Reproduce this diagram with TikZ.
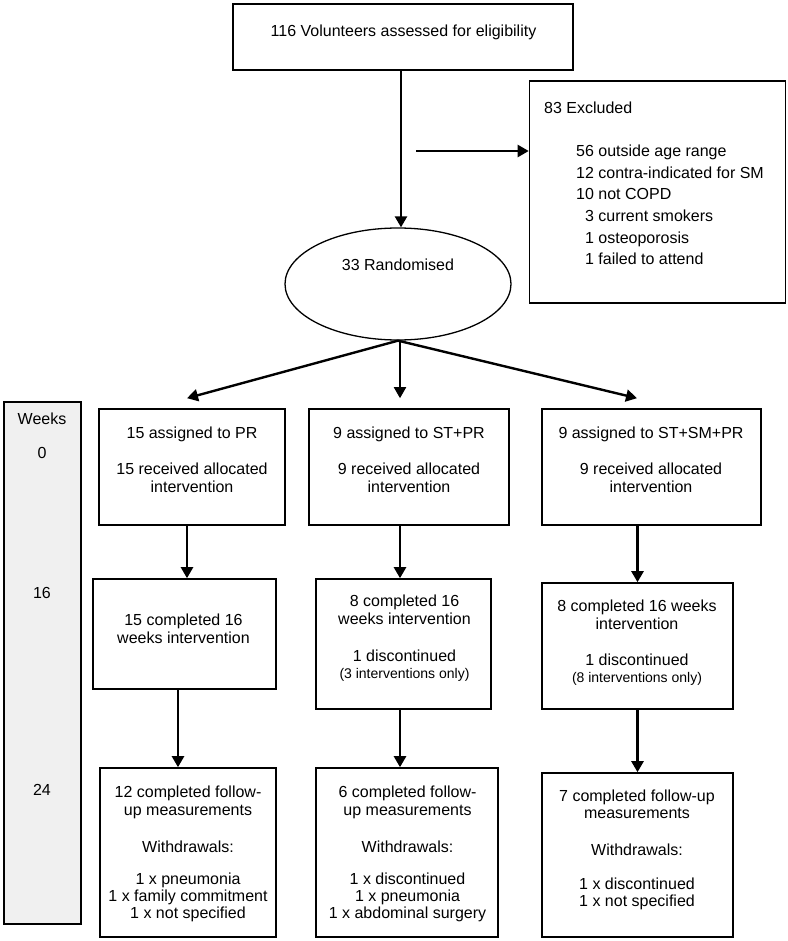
\documentclass[tikz,border=0pt]{standalone}
\usepackage{fontspec}
\setmainfont{Liberation Sans}
\usetikzlibrary{arrows.meta,shapes.geometric}
\begin{document}
\begin{tikzpicture}[x=1pt,y=-1pt,
  box/.style={draw=black,line width=1.6pt,fill=white,inner sep=0pt},
  txt/.style={inner sep=0pt,align=center,font=\fontsize{16}{18}\selectfont},
  arr/.style={line width=2.4pt,-{Triangle[length=11pt,width=12pt]}},
]
\useasboundingbox (0,0) rectangle (787,941);
% boxes
\node[box,minimum width=340pt,minimum height=66pt] (top) at (403,37) {};
\node[box,minimum width=256pt,minimum height=222pt] (excl) at (657.5,192) {};
\node[draw=black,line width=1.3pt,ellipse,minimum width=226pt,minimum height=112pt,inner sep=0pt] (ell) at (398,284) {};
\node[box,fill={rgb,255:red,240;green,240;blue,240},minimum width=77pt,minimum height=522pt] (weeks) at (42.5,663) {};
\node[box,minimum width=186pt,minimum height=116pt] (b1) at (192,467) {};
\node[box,minimum width=200pt,minimum height=116pt] (b2) at (409,467) {};
\node[box,minimum width=219pt,minimum height=116pt] (b3) at (651.5,467) {};
\node[box,minimum width=183pt,minimum height=110pt] (c1) at (184.5,634) {};
\node[box,minimum width=175pt,minimum height=130pt] (c2) at (403.5,644) {};
\node[box,minimum width=191pt,minimum height=126pt] (c3) at (637.5,646) {};
\node[box,minimum width=176pt,minimum height=169pt] (d1) at (188,852.5) {};
\node[box,minimum width=182pt,minimum height=169pt] (d2) at (407,852.5) {};
\node[box,minimum width=191pt,minimum height=164pt] (d3) at (637.5,855) {};
% texts
\node[txt] (ttop) at (403.5,32) {116 Volunteers assessed for eligibility};
\node[txt,anchor=west] (texh) at (544,108) {83 Excluded};
\node[inner sep=0pt,align=left,anchor=west,font=\fontsize{16}{21.6}\selectfont] (texl) at (576,205)
  {56 outside age range\\12 contra-indicated for SM\\10 not COPD\\\hphantom{0}3 current smokers\\\hphantom{0}1 osteoporosis\\\hphantom{0}1 failed to attend};
\node[txt] (tell) at (398,265) {33 Randomised};
\node[txt] (tw) at (42,419) {Weeks};
\node[txt] (tw0) at (42,453) {0};
\node[txt] (tw16) at (42,593) {16};
\node[txt] (tw24) at (42,790) {24};
\node[txt] (tb1) at (192,460) {15 assigned to PR\\[18pt]15 received allocated\\intervention};
\node[txt] (tb2) at (409,460) {9 assigned to ST+PR\\[18pt]9 received allocated\\intervention};
\node[txt] (tb3) at (651,460) {9 assigned to ST+SM+PR\\[18pt]9 received allocated\\intervention};
\node[txt] (tc1) at (183.5,629) {15 completed 16\\weeks intervention};
\node[txt] (tc2) at (404.5,638.5) {8 completed 16\\weeks intervention\\[19pt]1 discontinued\\[-1pt]{\fontsize{14}{16}\selectfont (3 interventions only)}};
\node[txt] (tc3) at (637,643) {8 completed 16 weeks\\intervention\\[18pt]1 discontinued\\[-1pt]{\fontsize{14}{16}\selectfont (8 interventions only)}};
\node[txt] (td1) at (188,853.5) {12 completed follow-\\up measurements\\[19pt]Withdrawals:\\[14pt]1 x pneumonia\\[-1pt]1 x family commitment\\[-1pt]1 x not specified};
\node[txt] (td2) at (407.5,853.5) {6 completed follow-\\up measurements\\[19pt]Withdrawals:\\[14pt]1 x discontinued\\[-1pt]1 x pneumonia\\[-1pt]1 x abdominal surgery};
\node[txt] (td3) at (637,849.5) {7 completed follow-up\\[-1pt]measurements\\[19pt]Withdrawals:\\[16pt]1 x discontinued\\[-1pt]1 x not specified};
% connectors
\draw[arr] ([xshift=-2pt]top.south) -- ([xshift=-2pt]top.south |- ell.north);
\coordinate (hs) at (416,151);
\draw[arr] (hs) -- (hs -| excl.west);
\draw[arr] (ell.south) -- ([xshift=-5pt,yshift=10pt]b1.north);
\draw[arr,line width=1.9pt] ([xshift=2pt]ell.south) -- ([xshift=-9pt,yshift=10pt]b2.north);
\draw[arr] (ell.south) -- ([xshift=-14.5pt,yshift=10pt]b3.north);
\draw[arr] ([xshift=-5pt]b1.south) -- ([xshift=-5pt]b1.south |- c1.north);
\draw[arr] ([xshift=-9pt]b2.south) -- ([xshift=-9pt]b2.south |- c2.north);
\draw[arr] (c3.north |- b3.south) -- (c3.north);
\draw[arr] ([xshift=-6.5pt]c1.south) -- ([xshift=-6.5pt]c1.south |- d1.north);
\draw[arr] ([xshift=-3.5pt]c2.south) -- ([xshift=-3.5pt]c2.south |- d2.north);
\draw[arr] (d3.north |- c3.south) -- (d3.north);
\end{tikzpicture}
\end{document}
